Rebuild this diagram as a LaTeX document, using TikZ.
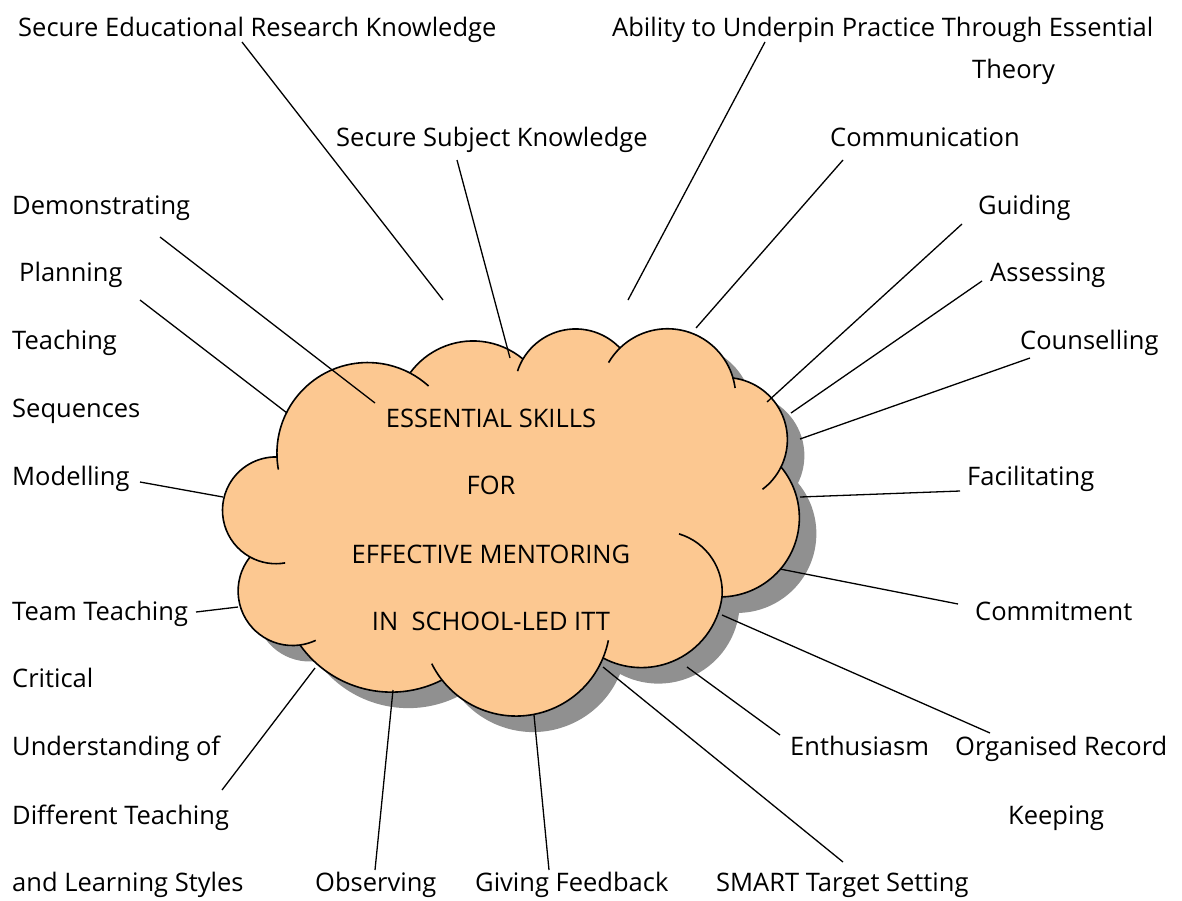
\documentclass[tikz,border=0pt]{standalone}
\usepackage{fontspec}
\setmainfont{Open Sans}
\usetikzlibrary{calc}
\definecolor{cloudfill}{RGB}{252,200,145}
\definecolor{shadowgray}{RGB}{144,144,144}
\newcommand\lobe[3]{let \p1=($(#2)-(#1)$), \p2=($(#3)-(#1)$), \n1={atan2(\y1,\x1)}, \n2={atan2(\y2,\x2)}, \n3={veclen(\x1,\y1)}, \n4={mod(\n1-(\n2)+720,360)} in arc[start angle=\n1, delta angle=-\n4, radius=\n3] -- (#3)}
\newcommand\cloudpath{(J0) \lobe{C1}{J0}{J1} \lobe{C2}{J1}{J2} \lobe{C3}{J2}{J3} \lobe{C4}{J3}{J4} \lobe{C5}{J4}{J5} \lobe{C6}{J5}{J6} \lobe{C7}{J6}{J7} \lobe{C8}{J7}{J8} \lobe{C9}{J8}{J9} \lobe{C10}{J9}{J10} \lobe{C11}{J10}{J0} -- cycle}
\newcommand\tailarc[3]{(#2) let \p1=($(#2)-(#1)$), \n1={atan2(\y1,\x1)}, \n3={veclen(\x1,\y1)} in arc[start angle=\n1, delta angle=#3, radius=\n3]}
\tikzset{
  lbl/.style={anchor=base west, inner sep=0pt, font=\fontsize{25.5}{30}\selectfont},
  ctext/.style={anchor=base, inner sep=0pt, font=\fontsize{25.5}{30}\selectfont},
  conn/.style={line width=1.3pt, draw=black},
  outline/.style={line width=1.6pt, draw=black},
}
\begin{document}
\begin{tikzpicture}[x=1pt, y=-1pt]
\useasboundingbox (0,0) rectangle (1182,900);
% junctions
\coordinate (J0) at (250,557);
\coordinate (J1) at (277,457);
\coordinate (J2) at (410,373);
\coordinate (J3) at (523,359);
\coordinate (J4) at (620,348);
\coordinate (J5) at (733,378);
\coordinate (J6) at (781,467);
\coordinate (J7) at (722,597);
\coordinate (J8) at (603,658);
\coordinate (J9) at (442,680);
\coordinate (J10) at (300,645);
% lobe centres
\coordinate (C1) at (275.9,510.3);
\coordinate (C2) at (367.7,453.3);
\coordinate (C3) at (473.1,419);
\coordinate (C4) at (575.6,390);
\coordinate (C5) at (667.5,397);
\coordinate (C6) at (725.3,439.6);
\coordinate (C7) at (720.1,517.75);
\coordinate (C8) at (641.4,586.3);
\coordinate (C9) at (516.1,622);
\coordinate (C10) at (391.3,580.1);
\coordinate (C11) at (292.6,591);
\coordinate (CT7) at (661.5,592);
% shadow
\begin{scope}[transform canvas={shift={(17pt,-16pt)}}]
\fill[shadowgray] \cloudpath;
\end{scope}
% cloud
\path[fill=cloudfill, outline, line join=round] \cloudpath;
% inner arcs
\draw[outline] \tailarc{C1}{J0}{39};
\draw[outline] \tailarc{C2}{J1}{8};
\draw[outline] \tailarc{C2}{J2}{-14.4};
\draw[outline] \tailarc{C4}{J3}{12.5};
\draw[outline] \tailarc{C5}{J4}{15.6};
\draw[outline] \tailarc{C5}{J5}{-8.6};
\draw[outline] \tailarc{C6}{J6}{-27};
\draw[outline] \tailarc{CT7}{J7}{78};
\draw[outline] \tailarc{C9}{J8}{11.3};
\draw[outline] \tailarc{C9}{J9}{-11.8};
\draw[outline] \tailarc{C11}{J10}{17.3};
% cloud text
\node[ctext] (t1) at (491,427) {ESSENTIAL SKILLS};
\node[ctext] (t2) at (491,494) {FOR};
\node[ctext] (t3) at (491,563) {EFFECTIVE MENTORING};
\node[ctext] (t4) at (491,630) {IN\ \ SCHOOL-LED ITT};
% labels
\node[lbl] (n1) at (18,36) {Secure Educational Research Knowledge};
\node[lbl] (n2) at (612,36) {Ability to Underpin Practice Through Essential};
\node[lbl] (n2b) at (972,78) {Theory};
\node[lbl] (n3) at (336,146) {Secure Subject Knowledge};
\node[lbl] (n4) at (830,146) {Communication};
\node[lbl] (n5) at (12,214) {Demonstrating};
\node[lbl] (n6) at (978,214) {Guiding};
\node[lbl] (n7) at (19,281) {Planning};
\node[lbl] (n8) at (990,281) {Assessing};
\node[lbl] (n7b) at (12,349) {Teaching};
\node[lbl] (n9) at (1020,349) {Counselling};
\node[lbl] (n7c) at (12,417) {Sequences};
\node[lbl] (n10) at (12,485) {Modelling};
\node[lbl] (n11) at (967,485) {Facilitating};
\node[lbl] (n12) at (12,620) {Team Teaching};
\node[lbl] (n13) at (975,620) {Commitment};
\node[lbl] (n14) at (12,687) {Critical};
\node[lbl] (n14b) at (12,755) {Understanding of};
\node[lbl] (n15) at (790,755) {Enthusiasm};
\node[lbl] (n16) at (955,755) {Organised Record};
\node[lbl] (n14c) at (12,824) {Different Teaching};
\node[lbl] (n16b) at (1008,824) {Keeping};
\node[lbl] (n14d) at (12,891) {and Learning Styles};
\node[lbl] (n17) at (315,891) {Observing};
\node[lbl] (n18) at (475,891) {Giving Feedback};
\node[lbl] (n19) at (716,891) {SMART Target Setting};
% connector end points
\coordinate (a1) at (242,42);   \coordinate (b1) at (443,300);
\coordinate (a2) at (765,42);   \coordinate (b2) at (628,300);
\coordinate (a3) at (457,160);  \coordinate (b3) at (510,358);
\coordinate (a4) at (843,160);  \coordinate (b4) at (696,328);
\coordinate (a5) at (160,237);  \coordinate (b5) at (375,403);
\coordinate (a6) at (962,224);  \coordinate (b6) at (767,402);
\coordinate (a7) at (140,300);  \coordinate (b7) at (287,413);
\coordinate (a8) at (982,281);  \coordinate (b8) at (791,413);
\coordinate (a9) at (1030,358); \coordinate (b9) at (800,439);
\coordinate (a10) at (140,482); \coordinate (b10) at (223,497);
\coordinate (a11) at (960,491); \coordinate (b11) at (800,497);
\coordinate (a12) at (196,612); \coordinate (b12) at (238,607);
\coordinate (a13) at (958,604); \coordinate (b13) at (780,569);
\coordinate (a14) at (222,790); \coordinate (b14) at (315,668);
\coordinate (a15) at (780,735); \coordinate (b15) at (687,667);
\coordinate (a16) at (990,733); \coordinate (b16) at (722,615);
\coordinate (a17) at (375,870); \coordinate (b17) at (393,690);
\coordinate (a18) at (549,870); \coordinate (b18) at (534,715);
\coordinate (a19) at (843,862); \coordinate (b19) at (603,667);
\foreach \i in {1,...,19} { \draw[conn] (a\i) -- (b\i); }
\end{tikzpicture}
\end{document}
